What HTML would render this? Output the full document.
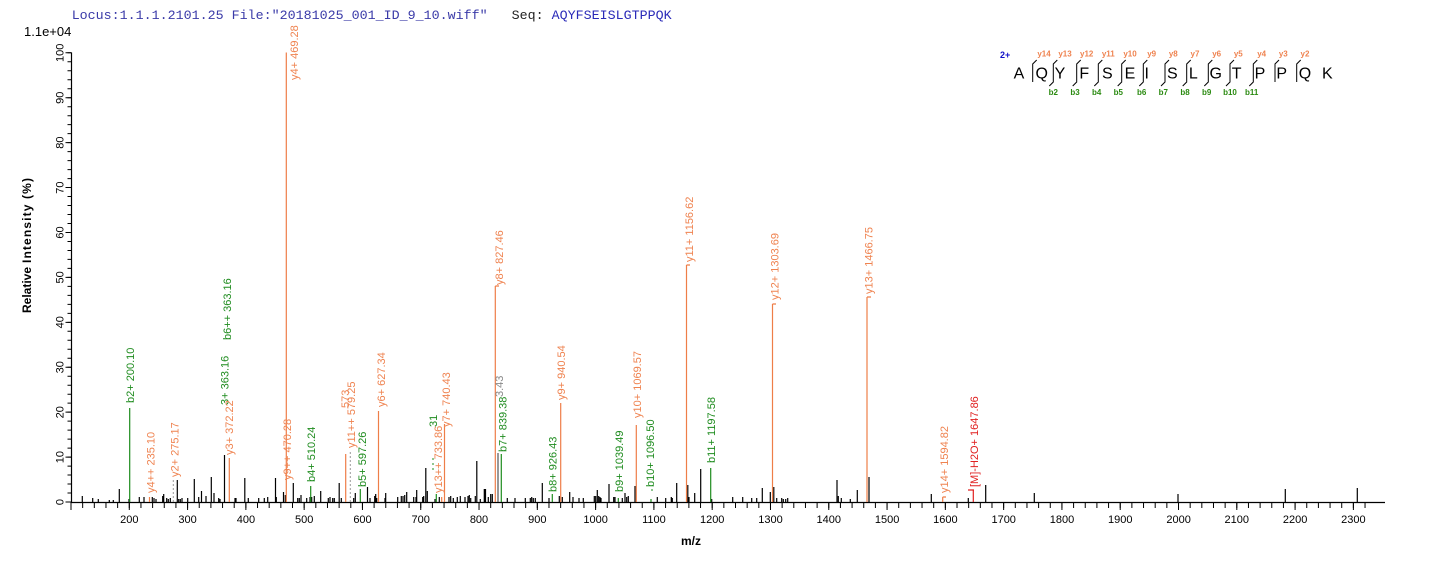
<!DOCTYPE html>
<html>
<head>
<meta charset="utf-8">
<style>
  html,body{margin:0;padding:0;background:#fff;}
  body{width:1436px;height:562px;overflow:hidden;}
  svg{display:block;}
  .ax{font-family:"Liberation Sans",Arial,sans-serif;font-size:11px;fill:#000;}
  .lb{font-family:"Liberation Sans",Arial,sans-serif;font-size:11px;}
  .o{fill:#ef8350;}
  .g{fill:#1f8c1f;}
  .r{fill:#e02020;}
  .gr{fill:#888;}
</style>
</head>
<body>
<svg width="1436" height="562" viewBox="0 0 1436 562" xmlns="http://www.w3.org/2000/svg">
  <!-- header -->
  <text x="71.7" y="19" style="font-family:'Liberation Mono','Courier New',monospace;font-size:13.33px;white-space:pre" xml:space="preserve"><tspan fill="#3a3aa8">Locus:1.1.1.2101.25 File:"20181025_001_ID_9_10.wiff"   </tspan><tspan fill="#222">Seq: </tspan><tspan fill="#2a2ab8">AQYFSEISLGTPPQK</tspan></text>
  <text x="24" y="36" style="font-family:'Liberation Sans',Arial,sans-serif;font-size:13px" fill="#000">1.1e+04</text>

  <!-- axes -->
  <path d="M71.5 52.5 V502.5 M71 502.5 H1385" stroke="#000" stroke-width="1.2" fill="none"/>
  <!-- y ticks -->
  <path d="M69.5 502.5 V51" stroke="#000" stroke-width="4" stroke-dasharray="1 7.984" fill="none"/>
  <path d="M68.5 502.5 V51" stroke="#000" stroke-width="6" stroke-dasharray="1 43.92" fill="none"/>
  <!-- x ticks -->
  <path d="M70.5 505 H1370" stroke="#000" stroke-width="6" stroke-dasharray="1 10.658" fill="none"/>
  <path d="M70.5 506 H1370" stroke="#000" stroke-width="8" stroke-dasharray="1 57.29" fill="none"/>

  <!-- y labels -->
  <g class="ax" text-anchor="middle">
    <text transform="translate(63.5,502) rotate(-90)">0</text>
    <text transform="translate(63.5,457.1) rotate(-90)">10</text>
    <text transform="translate(63.5,412.2) rotate(-90)">20</text>
    <text transform="translate(63.5,367.2) rotate(-90)">30</text>
    <text transform="translate(63.5,322.3) rotate(-90)">40</text>
    <text transform="translate(63.5,277.4) rotate(-90)">50</text>
    <text transform="translate(63.5,232.5) rotate(-90)">60</text>
    <text transform="translate(63.5,187.6) rotate(-90)">70</text>
    <text transform="translate(63.5,142.6) rotate(-90)">80</text>
    <text transform="translate(63.5,97.7) rotate(-90)">90</text>
    <text transform="translate(63.5,52.8) rotate(-90)">100</text>
  </g>
  <!-- x labels -->
  <g class="ax" text-anchor="middle">
    <text x="129.3" y="523">200</text><text x="187.6" y="523">300</text><text x="245.9" y="523">400</text>
    <text x="304.2" y="523">500</text><text x="362.5" y="523">600</text><text x="420.7" y="523">700</text>
    <text x="479.0" y="523">800</text><text x="537.3" y="523">900</text><text x="595.6" y="523">1000</text>
    <text x="653.9" y="523">1100</text><text x="712.2" y="523">1200</text><text x="770.5" y="523">1300</text>
    <text x="828.8" y="523">1400</text><text x="887.1" y="523">1500</text><text x="945.4" y="523">1600</text>
    <text x="1003.7" y="523">1700</text><text x="1062.0" y="523">1800</text><text x="1120.3" y="523">1900</text>
    <text x="1178.6" y="523">2000</text><text x="1236.8" y="523">2100</text><text x="1295.1" y="523">2200</text>
    <text x="1353.4" y="523">2300</text>
  </g>
  <text x="691" y="545" text-anchor="middle" style="font-family:'Liberation Sans',Arial,sans-serif;font-size:12px;font-weight:bold">m/z</text>
  <g style="font-family:'Liberation Sans',Arial,sans-serif;font-size:12px;font-weight:bold">
    <text transform="translate(31,313) rotate(-90)">Relative</text>
    <text transform="translate(31,263) rotate(-90)" textLength="85" lengthAdjust="spacing">Intensity (%)</text>
  </g>

  <!-- black peaks -->
  <path fill="none" stroke="#000" stroke-width="1.2" d="
M82.3 502V496M92.7 502V498M98.3 502V499M109.3 502V500M113.3 502V500M119.3 502V489M129 502V499M139.3 502V497M144 502V497
M152.3 502V497M154 502V498M156 502V499M162.7 502V496M163.7 502V494M166.7 502V498M168.3 502V499M170.3 502V498M177.3 502V480
M178.7 502V499M180.3 502V499M182 502V498M187.7 502V498M194.3 502V479M198.7 502V497M201.5 502V491M206 502V496M211.3 502V477
M214 502V493M218.7 502V498M220 502V499M224.5 502V455M235 502V498M236 502V498M244.8 502V478M248.3 502V498M258.7 502V498
M264.3 502V498M267.7 502V497M275.5 502V478M276.3 502V497M283.5 502V492M285.3 502V495M293.3 502V483M297.7 502V498M299.3 502V498
M301 502V495M306.7 502V498M310 502V497M311.7 502V497M314.3 502V496M320.7 502V491M328.3 502V498M330 502V497M332.7 502V498
M334.3 502V498M339.2 502V483M341.3 502V498M353.7 502V498M355.3 502V493M367.5 502V487M370 502V498M374.7 502V496M375.7 502V494
M376.7 502V498M385 502V498M385.7 502V493M397.7 502V497M401.3 502V496M403 502V496M404.7 502V495M406.7 502V492M413.7 502V497
M416 502V497M416.7 502V490M422.7 502V497M423.7 502V496M425.8 502V468M427.3 502V491M435 502V499M439.3 502V497M449 502V497
M450.7 502V496M453.3 502V498M457.3 502V497M460.3 502V496M465 502V497M468 502V496M469.3 502V495M470.7 502V498M475.3 502V496
M476.8 502V461M480.3 502V499M484.3 502V489M485.5 502V489M488.3 502V497M490.7 502V494M492.3 502V494M507.3 502V498M515 502V498
M525.3 502V498M530.3 502V498M531.7 502V497M533.3 502V498M535.3 502V498M542.3 502V483M549 502V498M559.3 502V496M562.3 502V497
M569.7 502V492M573 502V497M579 502V498M583.3 502V498M594.3 502V496M595.7 502V496M597.3 502V490M598.7 502V496M600 502V497
M601 502V498M609 502V484M613.7 502V497M615 502V497M622.3 502V498M625 502V493M626.7 502V497M628.3 502V496M635 502V486
M657.3 502V497M665.7 502V498M671.3 502V497M672.3 502V498M676.7 502V483M687.8 502V485M689 502V497M694.7 502V493M700.7 502V469
M711.7 502V499M732.7 502V497M742.7 502V497M751.7 502V498M756.7 502V498M762.3 502V488M770.3 502V492M773.8 502V487M776.7 502V498
M781.7 502V498M783.3 502V499M785.7 502V499M787.7 502V498M837 502V480M838.3 502V496M841.3 502V498M850.3 502V499M857.3 502V490
M869 502V477M931.3 502V494M968.3 502V498M985.7 502V485M1034.3 502V493M1178 502V494M1285.3 502V489M1357.3 502V488"/>
  <path d="M498 502V453" stroke="#555" stroke-width="1.2"/>

  <!-- colored peaks -->
  <path fill="none" stroke="#1f8c1f" stroke-width="1.2" d="M129.7 502V408M310.7 502V486M360.3 502V489M436.3 502V494M501.3 502V454M552.3 502V494M618.3 502V498M651 502V499M710.7 502V468"/>
  <path fill="none" stroke="#ee7e48" stroke-width="1.2" d="M149.5 502V497M229.3 502V458M286.3 502V52.5M345.7 502V454M378.5 502V411M441.7 502V497M444.5 502V424M495.3 502V286M560.7 502V403M636.3 502V425M686.5 502V265M772.5 502V304M867 502V297M942.7 502V497
  M495.3 286H499M686.5 265H690M772.5 304H776M867 297H871M942.7 497H946"/>
  <path fill="none" stroke="#e02020" stroke-width="1.2" d="M973.3 502V490M968 490H974"/>
  <path fill="none" stroke="#999" stroke-width="1" stroke-dasharray="2 2" d="M173.3 502V479M350.3 502V450"/>
  <path fill="none" stroke="#1f8c1f" stroke-width="1" stroke-dasharray="2 3" d="M433 470V457M651 490H656"/>

  <!-- peak labels -->
  <g class="lb">
    <text class="g" transform="translate(134,403) rotate(-90)">b2+ 200.10</text>
    <text class="o" transform="translate(154.3,493) rotate(-90)">y4++ 235.10</text>
    <text class="o" transform="translate(178.5,477) rotate(-90)">y2+ 275.17</text>
    <text class="g" transform="translate(231,340) rotate(-90)">b6++ 363.16</text>
    <text class="g" transform="translate(228.5,405) rotate(-90)">3+ 363.16</text>
    <text class="o" transform="translate(233,455) rotate(-90)">y3+ 372.22</text>
    <text class="o" transform="translate(298,80) rotate(-90)">y4+ 469.28</text>
    <text class="o" transform="translate(291,480) rotate(-90)">y9++ 470.28</text>
    <text class="g" transform="translate(315,482) rotate(-90)">b4+ 510.24</text>
    <text class="o" transform="translate(349,408) rotate(-90)">573</text>
    <text class="o" transform="translate(355,448) rotate(-90)">y11++ 579.25</text>
    <text class="g" transform="translate(366,487) rotate(-90)">b5+ 597.26</text>
    <text class="o" transform="translate(385,407) rotate(-90)">y6+ 627.34</text>
    <text class="g" transform="translate(437,427) rotate(-90)">31</text>
    <text class="o" transform="translate(442,493) rotate(-90)">y13++ 733.86</text>
    <text class="o" transform="translate(450,427) rotate(-90)">y7+ 740.43</text>
    <text class="o" transform="translate(503,285) rotate(-90)">y8+ 827.46</text>
    <text class="gr" transform="translate(503,397) rotate(-90)">3.43</text>
    <text class="g" transform="translate(506.5,452) rotate(-90)">b7+ 839.38</text>
    <text class="g" transform="translate(556.3,492) rotate(-90)">b8+ 926.43</text>
    <text class="o" transform="translate(565,400) rotate(-90)">y9+ 940.54</text>
    <text class="g" transform="translate(623,492) rotate(-90)">b9+ 1039.49</text>
    <text class="o" transform="translate(641,418) rotate(-90)">y10+ 1069.57</text>
    <text class="g" transform="translate(654,487) rotate(-90)">b10+ 1096.50</text>
    <text class="o" transform="translate(693,262) rotate(-90)">y11+ 1156.62</text>
    <text class="g" transform="translate(715,463) rotate(-90)">b11+ 1197.58</text>
    <text class="o" transform="translate(778.5,300) rotate(-90)">y12+ 1303.69</text>
    <text class="o" transform="translate(872.3,294) rotate(-90)">y13+ 1466.75</text>
    <text class="o" transform="translate(948,493) rotate(-90)">y14+ 1594.82</text>
    <text class="r" transform="translate(978,487) rotate(-90)">[M]-H2O+ 1647.86</text>
  </g>

  <!-- sequence annotation -->
  <text x="1000" y="58" style="font-family:'Liberation Sans',Arial,sans-serif;font-size:9px;font-weight:bold" fill="#1010c8">2+</text>
  <g style="font-family:'Liberation Sans',Arial,sans-serif;font-size:16px" fill="#000" text-anchor="middle">
    <text x="1019" y="78.5">A</text><text x="1041.7" y="78.5">Q</text><text x="1060" y="78.5">Y</text>
    <text x="1084.3" y="78.5">F</text><text x="1107.3" y="78.5">S</text><text x="1130" y="78.5">E</text>
    <text x="1146.7" y="78.5">I</text><text x="1172.3" y="78.5">S</text><text x="1193.3" y="78.5">L</text>
    <text x="1215.7" y="78.5">G</text><text x="1236.7" y="78.5">T</text><text x="1260" y="78.5">P</text>
    <text x="1281.7" y="78.5">P</text><text x="1305" y="78.5">Q</text><text x="1327.3" y="78.5">K</text>
  </g>
  <path fill="none" stroke="#000" stroke-width="1" d="
M1036.7 60L1032.7 64V82
M1057.3 60L1053.3 64V82L1049.3 86
M1080.7 60L1076.7 64V82L1072.7 86
M1102.3 60L1098.3 64V82L1094.3 86
M1125.7 60L1121.7 64V82L1117.7 86
M1147.3 60L1143.3 64V82L1139.3 86
M1169 60L1165 64V82L1161 86
M1190.7 60L1186.7 64V82L1182.7 86
M1212.3 60L1208.3 64V82L1204.3 86
M1234 60L1230 64V82L1226 86
M1257.3 60L1253.3 64V82L1249.3 86
M1279 60L1275 64V82
M1300.7 60L1296.7 64V82"/>
  <g style="font-family:'Liberation Sans',Arial,sans-serif;font-size:8px;font-weight:bold" fill="#ef8350" text-anchor="middle">
    <text x="1044" y="56.5">y14</text><text x="1065" y="56.5">y13</text><text x="1086.7" y="56.5">y12</text>
    <text x="1108.3" y="56.5">y11</text><text x="1130" y="56.5">y10</text><text x="1151.7" y="56.5">y9</text>
    <text x="1173.3" y="56.5">y8</text><text x="1195" y="56.5">y7</text><text x="1216.7" y="56.5">y6</text>
    <text x="1238.3" y="56.5">y5</text><text x="1261.7" y="56.5">y4</text><text x="1283.3" y="56.5">y3</text>
    <text x="1305" y="56.5">y2</text>
  </g>
  <g style="font-family:'Liberation Sans',Arial,sans-serif;font-size:8px;font-weight:bold" fill="#2a8a10" text-anchor="middle">
    <text x="1053.3" y="95">b2</text><text x="1075" y="95">b3</text><text x="1096.7" y="95">b4</text>
    <text x="1118.3" y="95">b5</text><text x="1141.7" y="95">b6</text><text x="1163.3" y="95">b7</text>
    <text x="1185" y="95">b8</text><text x="1206.7" y="95">b9</text><text x="1230" y="95">b10</text>
    <text x="1251.7" y="95">b11</text>
  </g>
</svg>
</body>
</html>
